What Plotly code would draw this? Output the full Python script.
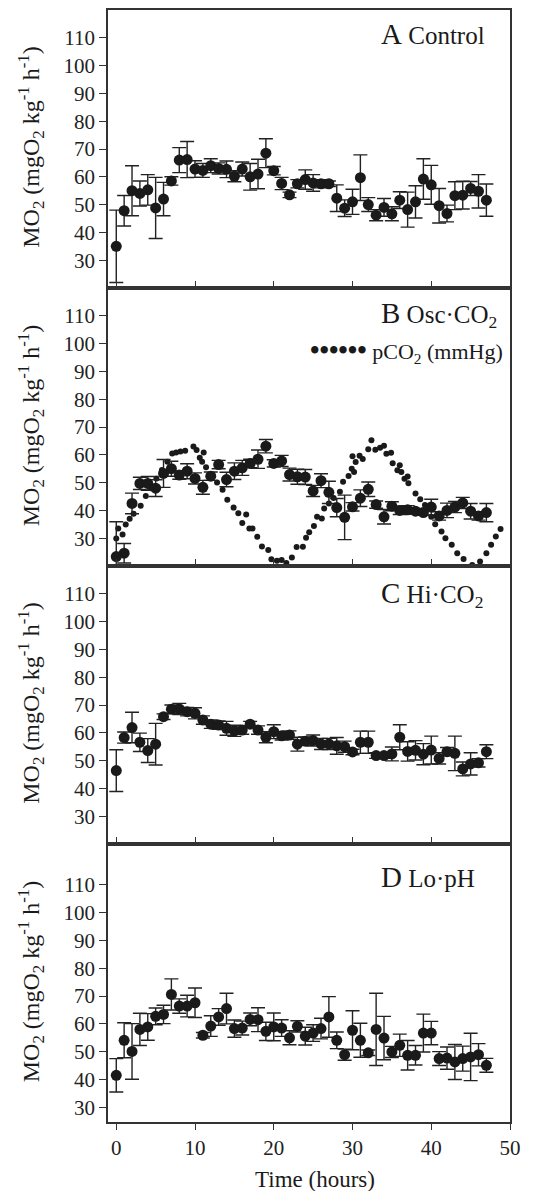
import plotly.graph_objects as go
from plotly.subplots import make_subplots

# ---------------- data ----------------
hours = [0, 1, 2, 3, 4, 5, 6, 7, 8, 9, 10, 11, 12, 13, 14, 15, 16, 17, 18, 19,
         20, 21, 22, 23, 24, 25, 26, 27, 28, 29, 30, 31, 32, 33, 34, 35, 36, 37,
         38, 39, 40, 41, 42, 43, 44, 45, 46, 47]

control_mo2 = [35.0, 47.8, 55.0, 54.0, 55.3, 48.8, 52.0, 58.5, 66.0, 66.2,
               62.8, 62.3, 64.0, 63.0, 62.7, 60.2, 62.8, 60.0, 61.0, 68.5,
               62.2, 57.6, 53.5, 57.5, 59.0, 57.8, 57.5, 57.5, 52.3, 48.7,
               51.0, 59.7, 50.0, 46.2, 49.0, 46.7, 51.6, 48.2, 51.0, 59.2,
               57.1, 49.6, 46.8, 53.2, 53.4, 55.8, 54.8, 51.6]
control_err = [13.0, 5.5, 9.0, 4.5, 5.5, 11.0, 6.0, 1.5, 4.5, 6.5,
               3.0, 2.5, 2.5, 2.0, 3.0, 2.0, 2.5, 4.8, 5.3, 5.2,
               1.5, 2.2, 1.0, 1.5, 3.5, 3.0, 1.5, 1.0, 4.8, 3.0,
               4.5, 8.2, 2.5, 2.0, 3.2, 2.5, 3.0, 6.3, 5.8, 7.3,
               7.0, 6.2, 3.0, 5.0, 5.0, 2.5, 6.0, 5.8]

osc_mo2 = [23.4, 24.6, 42.5, 49.7, 49.7, 48.0, 53.3, 55.0, 52.7, 54.1,
           51.5, 48.3, 52.3, 56.5, 51.1, 54.1, 55.3, 56.9, 58.4, 63.1,
           56.9, 57.8, 52.9, 52.1, 52.0, 47.0, 50.7, 46.5, 41.0, 37.5,
           41.3, 44.4, 47.6, 42.1, 37.7, 41.5, 40.0, 40.2, 39.7, 39.2,
           41.2, 38.0, 40.0, 41.2, 42.7, 39.7, 38.0, 39.2]
osc_err = [12.5, 3.5, 3.7, 2.2, 2.5, 3.0, 5.0, 2.7, 1.5, 2.7,
           2.0, 2.5, 1.5, 1.5, 2.6, 3.0, 2.7, 1.5, 3.3, 2.4,
           1.3, 2.0, 2.3, 2.7, 2.7, 2.0, 2.5, 4.0, 3.3, 8.0,
           1.5, 3.0, 2.6, 1.3, 2.6, 1.6, 1.5, 1.5, 1.0, 1.0,
           2.8, 1.5, 2.6, 2.0, 2.0, 2.8, 1.5, 3.3]

hico2_mo2 = [46.4, 58.3, 61.9, 56.6, 53.6, 55.9, 65.8, 68.5, 68.6, 67.6,
             67.0, 64.6, 63.1, 62.8, 61.6, 60.7, 61.0, 63.1, 61.0, 58.4,
             60.4, 58.9, 59.2, 55.9, 57.0, 57.2, 56.0, 56.0, 55.3, 55.0,
             53.1, 56.6, 56.6, 51.8, 51.8, 52.4, 58.4, 53.3, 53.7, 52.3,
             53.8, 50.8, 53.2, 52.6, 47.0, 48.8, 49.2, 53.2]
hico2_err = [7.5, 2.0, 5.5, 3.3, 4.3, 7.5, 1.0, 1.5, 2.0, 1.5,
             2.0, 1.5, 1.5, 1.5, 2.5, 2.0, 1.5, 1.0, 1.5, 2.0,
             2.5, 1.5, 1.5, 2.5, 1.5, 2.0, 2.0, 2.0, 3.0, 2.0,
             1.0, 4.0, 4.0, 1.0, 1.0, 2.5, 4.5, 3.5, 3.5, 3.8,
             5.0, 2.0, 1.5, 6.2, 2.5, 4.0, 1.5, 2.5]

loph_mo2 = [41.5, 54.1, 50.1, 58.0, 58.9, 62.7, 63.4, 70.6, 66.4, 66.4,
            67.6, 55.9, 59.2, 62.5, 65.5, 58.3, 58.5, 61.6, 61.5, 57.3,
            58.9, 58.5, 55.0, 59.1, 55.6, 56.7, 58.3, 62.5, 54.1, 48.9,
            57.7, 54.1, 49.6, 58.0, 54.9, 49.9, 52.3, 48.7, 48.7, 56.7,
            56.7, 47.5, 47.7, 46.3, 47.5, 48.1, 48.9, 45.1]
loph_err = [6.0, 6.3, 10.0, 5.8, 4.8, 3.0, 3.3, 5.6, 2.6, 3.9,
            5.3, 1.0, 3.7, 3.0, 5.5, 3.1, 2.5, 2.3, 4.3, 3.3,
            5.0, 3.0, 2.5, 2.0, 3.2, 3.0, 3.7, 7.3, 3.0, 2.0,
            7.0, 6.1, 1.0, 13.0, 7.8, 2.0, 4.0, 5.3, 3.5, 6.8,
            4.2, 2.5, 4.0, 6.3, 4.5, 8.5, 4.0, 2.5]

pco2_time = [0.0, 0.25, 0.8, 1.2, 1.7, 2.2, 3.1, 3.75, 4.4, 5.1, 5.8, 6.5,
             7.1, 7.6, 8.15, 8.75, 9.8, 10.2, 10.6, 10.9, 11.1, 11.4, 12.1,
             12.8, 13.5, 14.1, 14.9, 15.5, 16.0, 16.5, 16.9, 17.3, 17.9,
             18.5, 19.3, 19.7, 20.4, 21.0, 21.6, 22.3, 22.9, 23.7, 24.1,
             24.5, 25.1, 25.5, 26.1, 26.4, 27.0, 27.6, 28.4, 28.8, 29.5,
             29.9, 30.0, 30.2, 30.4, 30.9, 31.3, 32.0, 32.4, 32.9, 33.5,
             34.0, 34.3, 34.9, 35.1, 35.7, 36.0, 36.2, 36.6, 37.0, 37.1,
             38.0, 38.6, 39.2, 40.0, 40.5, 41.3, 41.8, 42.6, 43.3, 44.1,
             45.2, 46.2, 47.0, 47.6, 48.2, 48.8]
pco2_mmHg = [29.9, 33.5, 31.3, 34.9, 37.0, 38.8, 41.7, 45.2, 48.0, 51.5, 54.5,
             57.5, 60.5, 60.8, 61.2, 61.5, 63.0, 61.7, 58.9, 57.5, 60.8, 55.5,
             53.0, 50.0, 47.4, 43.8, 41.0, 39.0, 35.5, 38.5, 33.5, 33.5, 30.5,
             27.0, 25.8, 22.4, 21.9, 22.2, 21.1, 23.1, 26.8, 26.9, 30.2, 32.1,
             34.4, 37.7, 37.1, 40.7, 42.5, 44.5, 46.7, 50.3, 52.4, 55.0, 59.5,
             53.8, 57.4, 59.7, 58.5, 62.0, 65.2, 61.8, 62.5, 63.3, 60.4, 60.7,
             57.0, 54.4, 56.2, 53.8, 51.4, 52.2, 49.8, 46.1, 44.0, 41.9, 37.7,
             35.0, 32.4, 30.0, 27.6, 24.6, 22.5, 20.4, 21.6, 24.6, 27.6, 30.6,
             33.3]

baselines = [43.0, 39.5, 46.3, 46.3]
panel_labels = ["<span style='font-size:29px'>A</span> Control",
                "<span style='font-size:29px'>B</span> Osc·CO<sub>2</sub>",
                "<span style='font-size:29px'>C</span> Hi·CO<sub>2</sub>",
                "<span style='font-size:29px'>D</span> Lo·pH"]
y_ranges = [[20, 120], [20, 120], [20, 120], [24.7, 124.7]]
y_ticks = [30, 40, 50, 60, 70, 80, 90, 100, 110]
x_ticks = [0, 10, 20, 30, 40, 50]
y_title = "MO<sub>2</sub> (mgO<sub>2</sub> kg<sup>-1</sup> h<sup>-1</sup>)"

# ---------------- figure ----------------
FONT = "Liberation Serif, Times New Roman, serif"
INK = "#1a1a1a"
AX = "#333333"

fig = make_subplots(rows=4, cols=1, vertical_spacing=0)

series = [(control_mo2, control_err), (osc_mo2, osc_err),
          (hico2_mo2, hico2_err), (loph_mo2, loph_err)]

for i, (vals, errs) in enumerate(series):
    r = i + 1
    fig.add_hline(y=baselines[i], line=dict(color="#222222", width=1.2),
                  row=r, col=1)
    if i == 1:
        fig.add_trace(go.Scatter(
            x=pco2_time, y=pco2_mmHg, mode="markers",
            marker=dict(size=6, color=INK), showlegend=False,
            hoverinfo="skip"), row=r, col=1)
    fig.add_trace(go.Scatter(
        x=hours, y=vals, mode="markers",
        marker=dict(size=11, color=INK),
        error_y=dict(type="data", array=errs, visible=True,
                     color="#222222", thickness=1.4, width=7),
        showlegend=False), row=r, col=1)

for i in range(4):
    r = i + 1
    last = (i == 3)
    fig.update_xaxes(
        range=[-1.05, 50], tickvals=x_ticks, showgrid=False, zeroline=False,
        showline=True, linecolor=AX, linewidth=1.6, mirror=True,
        ticks="outside" if last else "inside", ticklen=6 if last else 7,
        tickwidth=1.4, tickcolor=AX,
        showticklabels=last,
        tickfont=dict(family=FONT, size=21, color="#222222"),
        row=r, col=1)
    fig.update_yaxes(
        range=y_ranges[i], tickvals=y_ticks, showgrid=False, zeroline=False,
        showline=True, linecolor=AX, linewidth=1.6, mirror=True,
        ticks="outside", ticklen=7, tickwidth=1.4, tickcolor=AX,
        tickfont=dict(family=FONT, size=21, color="#222222"),
        row=r, col=1)

# The page has an 8px body margin; plot area in page pixels:
# left 108, right 510, top 7, bottom 1122.
PW, PH = 402.0, 1114.0
def py(page_y):
    return (1122 - page_y) / PH
def px(page_x):
    return (page_x - 108) / PW

annotations = []
label_tops = [14, 294, 574, 859]
centers = [146, 425, 703, 982]
for i in range(4):
    annotations.append(dict(
        text=panel_labels[i], x=px(379), y=py(label_tops[i]),
        xref="paper", yref="paper", xanchor="left", yanchor="top",
        showarrow=False, font=dict(family=FONT, size=25, color=INK)))
    annotations.append(dict(
        text=y_title, x=px(31), y=py(centers[i]),
        xref="paper", yref="paper", xanchor="center", yanchor="middle",
        textangle=-90, showarrow=False,
        font=dict(family=FONT, size=24, color=INK)))

annotations.append(dict(
    text="<span style='font-size:27px'><b>••••••</b></span> pCO<sub>2</sub> (mmHg)",
    x=px(308), y=py(350), xref="paper", yref="paper",
    xanchor="left", yanchor="middle", showarrow=False,
    font=dict(family=FONT, size=22, color=INK)))

annotations.append(dict(
    text="Time (hours)", x=px(315), y=py(1180), xref="paper",
    yref="paper", xanchor="center", yanchor="middle", showarrow=False,
    font=dict(family=FONT, size=23, color=INK)))

fig.update_layout(
    width=536, height=1183,
    margin=dict(l=100, r=34, t=0, b=69),
    paper_bgcolor="white", plot_bgcolor="white",
    font=dict(family=FONT, color=INK),
    annotations=list(fig.layout.annotations) + annotations,
)

fig.write_html("out.html")
